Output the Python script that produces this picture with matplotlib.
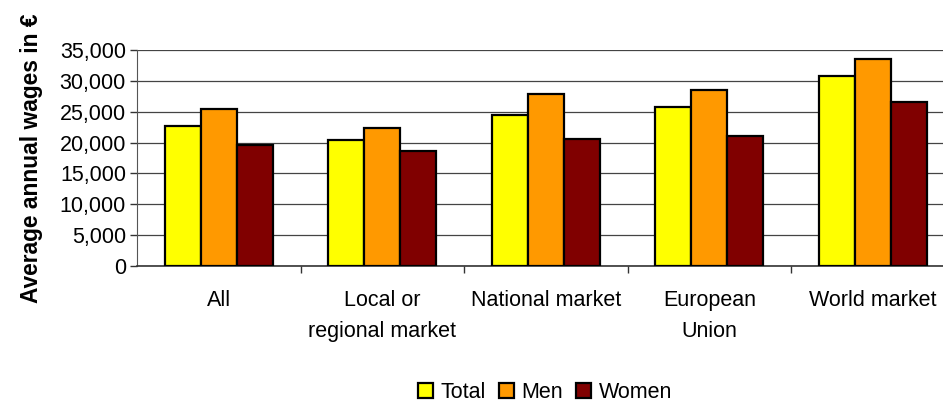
import numpy as np
import matplotlib.pyplot as plt
from matplotlib.ticker import FuncFormatter

plt.rcParams['font.family'] = ['Liberation Sans', 'DejaVu Sans']

categories = ['All', 'Local or\nregional market', 'National market', 'European\nUnion', 'World market']
total = [22700, 20400, 24400, 25700, 30800]
men = [25400, 22300, 27800, 28500, 33500]
women = [19600, 18600, 20600, 21000, 26500]
series_names = ['Total', 'Men', 'Women']
colors = ['#ffff00', '#ff9900', '#800000']

fig = plt.figure(figsize=(9.43, 4.05), dpi=100)
ax = fig.add_axes([0.1453, 0.343, 0.867, 0.5335])

x = np.arange(len(categories))
w = 0.22
for i, (vals, name, c) in enumerate(zip([total, men, women], series_names, colors)):
    ax.bar(x + (i - 1) * w, vals, w, color=c, edgecolor='black', linewidth=1.6,
           label=name, zorder=3)

ax.set_xlim(-0.5, len(categories) - 0.5)
ax.set_ylim(0, 35000)
ax.set_yticks(np.arange(0, 35001, 5000))
ax.yaxis.set_major_formatter(FuncFormatter(lambda v, p: f'{int(v):,}'))
ax.grid(axis='y', color='#444444', linewidth=0.9, zorder=0)

ax.set_xticks(x)
ax.set_xticklabels(categories, fontsize=15.5, linespacing=1.65)
ax.set_xticks(np.arange(0.5, len(categories) - 0.5), minor=True)
ax.tick_params(axis='x', which='major', length=0, pad=17)
ax.tick_params(axis='x', which='minor', length=5, width=1, color='#333333')
ax.tick_params(axis='y', labelsize=15.5, length=5, width=1, color='#333333', pad=3)

for side in ['top', 'right']:
    ax.spines[side].set_visible(False)
ax.spines['left'].set_color('#555555')
ax.spines['bottom'].set_color('#333333')
ax.spines['bottom'].set_linewidth(1.2)

fig.text(0.033, 0.61, 'Average annual wages in €', rotation=90, fontsize=16.4,
         fontweight='bold', ha='center', va='center')

# legend sits right under the plot, close to the bottom edge
fig.legend(loc='lower center', bbox_to_anchor=(0.578, -0.042), ncol=3, frameon=False,
           fontsize=15.5, handlelength=0.7, handleheight=0.7, handletextpad=0.35,
           columnspacing=0.6)

fig.savefig('out.png', dpi=100)
